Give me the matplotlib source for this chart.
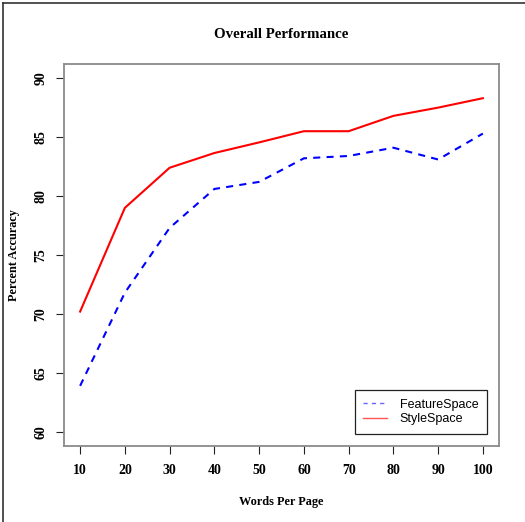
import matplotlib
matplotlib.use('Agg')
import matplotlib.pyplot as plt
from matplotlib.lines import Line2D

words = [10, 20, 30, 40, 50, 60, 70, 80, 90, 100]
feature_space = [63.9, 71.8, 77.3, 80.6, 81.2, 83.2, 83.4, 84.1, 83.1, 85.3]
style_space = [70.2, 79.0, 82.4, 83.65, 84.55, 85.5, 85.5, 86.8, 87.5, 88.3]
yticks = [60, 65, 70, 75, 80, 85, 90]

serif = 'Liberation Serif'

fig = plt.figure(figsize=(5.25, 5.22), dpi=100)
ax = fig.add_axes([64/525, 76/522, 435/525, 382/522])

ax.plot(words, feature_space, color='blue', lw=1.5, dashes=(3.4, 3.0),
        label='FeatureSpace')
ax.plot(words, style_space, color='red', lw=1.5, label='StyleSpace')

ax.set_xlim(6.4, 103.6)
ax.set_ylim(58.8, 91.2)
ax.set_xticks(words)
ax.set_yticks(yticks)
ax.set_xticklabels([str(w) for w in words], fontfamily=serif,
                   fontweight='bold', fontsize=10)
ax.set_yticklabels([str(t) for t in yticks], fontfamily=serif,
                   fontweight='bold', fontsize=10, rotation=90, va='center')
ax.tick_params(axis='x', length=6, width=0.8, color='#222222', pad=7)
ax.tick_params(axis='y', length=6, width=0.8, color='#222222', pad=6)

for s in ax.spines.values():
    s.set_color('#8a8a8a')
    s.set_linewidth(1.3)

ax.set_title('Overall Performance', fontfamily=serif, fontweight='bold',
             fontsize=10.7, pad=19)
ax.set_xlabel('Words Per Page', fontfamily=serif, fontweight='bold',
              fontsize=8.8)
ax.set_ylabel('Percent Accuracy', fontfamily=serif, fontweight='bold',
              fontsize=8.8)
ax.xaxis.set_label_coords(0.5, -0.131)
ax.yaxis.set_label_coords(-0.102, 0.5)

leg_handles = [
    Line2D([], [], color='#6666ff', lw=1.0, dashes=(3, 3)),
    Line2D([], [], color='#ff5555', lw=1.0),
]
leg = ax.legend(leg_handles, ['FeatureSpace', 'StyleSpace'],
                loc='lower right',
                bbox_to_anchor=((487 - 64)/435, (446 - 434)/382),
                frameon=True, fancybox=False, framealpha=1, handlelength=1.9,
                borderpad=0.7, labelspacing=0.2, handletextpad=1.0,
                borderaxespad=0,
                prop={'family': 'Liberation Sans', 'size': 9})
leg.get_frame().set_edgecolor('#222222')
leg.get_frame().set_linewidth(0.9)

# screenshot border on top and left
fig.add_artist(Line2D([2.5/525, 1], [1 - 2.5/522, 1 - 2.5/522],
                      transform=fig.transFigure, color='#333333', lw=1.2))
fig.add_artist(Line2D([2.5/525, 2.5/525], [0, 1 - 2.5/522],
                      transform=fig.transFigure, color='#333333', lw=1.2))

fig.savefig('out.png', dpi=100)
